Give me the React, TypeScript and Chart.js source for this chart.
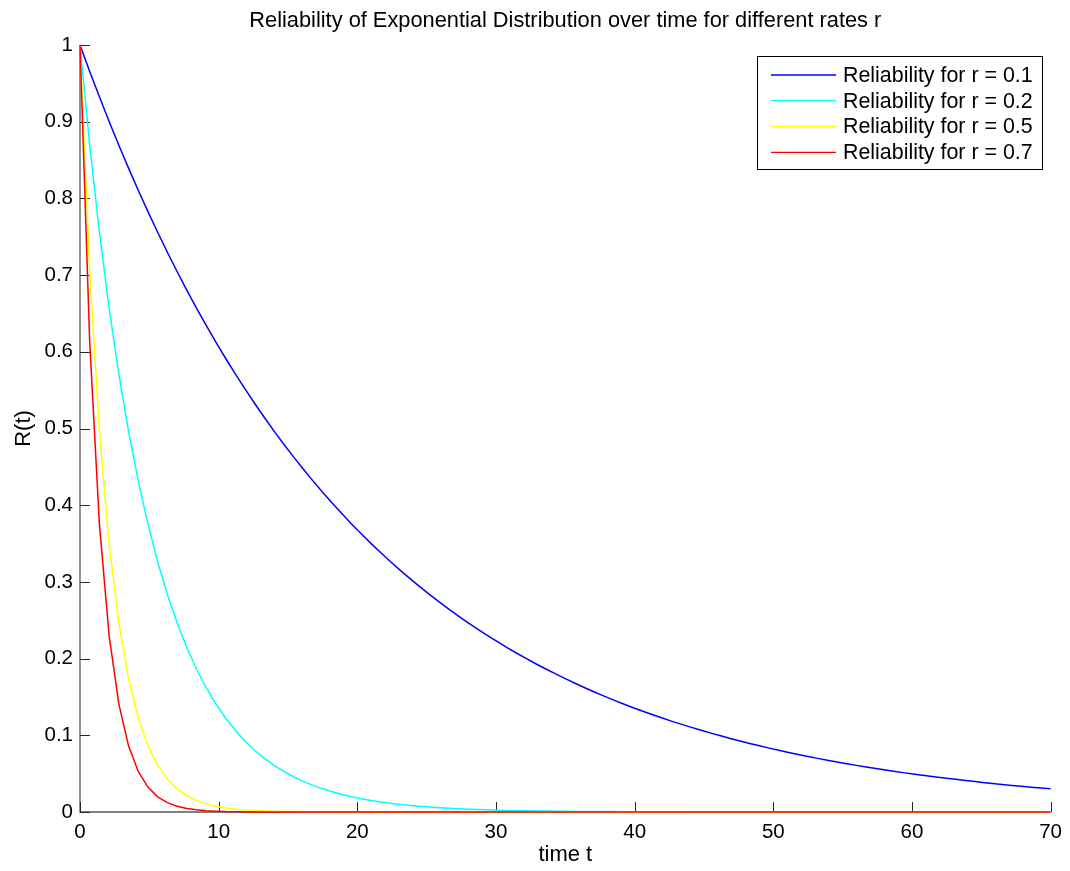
import React, { useEffect, useRef } from "react";
import { Chart, registerables } from "chart.js";

Chart.register(...registerables);

const chartTitle = "Reliability of Exponential Distribution over time for different rates r";
const xAxisTitle = "time t";
const yAxisTitle = "R(t)";

const seriesLabels = [
  "Reliability for r = 0.1",
  "Reliability for r = 0.2",
  "Reliability for r = 0.5",
  "Reliability for r = 0.7",
];
const seriesColors = ["#0000ff", "#00ffff", "#ffff00", "#ff0000"];

const xTicks = [0, 10, 20, 30, 40, 50, 60, 70];
const yTicks = [0, 0.1, 0.2, 0.3, 0.4, 0.5, 0.6, 0.7, 0.8, 0.9, 1];
const yTickLabels = ["0", "0.1", "0.2", "0.3", "0.4", "0.5", "0.6", "0.7", "0.8", "0.9", "1"];

const tValues = [
  0, 0.7, 1.4, 2.1, 2.8, 3.5, 4.2, 4.9, 5.6, 6.3,
  7, 7.7, 8.4, 9.1, 9.8, 10.5, 11.2, 11.9, 12.6, 13.3,
  14, 14.7, 15.4, 16.1, 16.8, 17.5, 18.2, 18.9, 19.6, 20.3,
  21, 21.7, 22.4, 23.1, 23.8, 24.5, 25.2, 25.9, 26.6, 27.3,
  28, 28.7, 29.4, 30.1, 30.8, 31.5, 32.2, 32.9, 33.6, 34.3,
  35, 35.7, 36.4, 37.1, 37.8, 38.5, 39.2, 39.9, 40.6, 41.3,
  42, 42.7, 43.4, 44.1, 44.8, 45.5, 46.2, 46.9, 47.6, 48.3,
  49, 49.7, 50.4, 51.1, 51.8, 52.5, 53.2, 53.9, 54.6, 55.3,
  56, 56.7, 57.4, 58.1, 58.8, 59.5, 60.2, 60.9, 61.6, 62.3,
  63, 63.7, 64.4, 65.1, 65.8, 66.5, 67.2, 67.9, 68.6, 69.3,
  70,
];

const reliabilityR01 = [
  1.0, 0.9656, 0.9324, 0.9003, 0.8694, 0.8395, 0.8106, 0.7827, 0.7558, 0.7298,
  0.7047, 0.6805, 0.657, 0.6344, 0.6126, 0.5916, 0.5712, 0.5516, 0.5326, 0.5143,
  0.4966, 0.4795, 0.463, 0.4471, 0.4317, 0.4169, 0.4025, 0.3887, 0.3753, 0.3624,
  0.3499, 0.3379, 0.3263, 0.3151, 0.3042, 0.2938, 0.2837, 0.2739, 0.2645, 0.2554,
  0.2466, 0.2381, 0.2299, 0.222, 0.2144, 0.207, 0.1999, 0.193, 0.1864, 0.18,
  0.1738, 0.1678, 0.162, 0.1565, 0.1511, 0.1459, 0.1409, 0.136, 0.1313, 0.1268,
  0.1225, 0.1182, 0.1142, 0.1103, 0.1065, 0.1028, 0.0993, 0.0958, 0.0926, 0.0894,
  0.0863, 0.0833, 0.0805, 0.0777, 0.075, 0.0724, 0.0699, 0.0675, 0.0652, 0.063,
  0.0608, 0.0587, 0.0567, 0.0548, 0.0529, 0.051, 0.0493, 0.0476, 0.046, 0.0444,
  0.0429, 0.0414, 0.04, 0.0386, 0.0373, 0.036, 0.0347, 0.0335, 0.0324, 0.0313,
  0.0302,
];

const reliabilityR02 = [
  1.0, 0.8694, 0.7558, 0.657, 0.5712, 0.4966, 0.4317, 0.3753, 0.3263, 0.2837,
  0.2466, 0.2144, 0.1864, 0.162, 0.1409, 0.1225, 0.1065, 0.0926, 0.0805, 0.0699,
  0.0608, 0.0529, 0.046, 0.04, 0.0347, 0.0302, 0.0263, 0.0228, 0.0198, 0.0173,
  0.015, 0.013, 0.0113, 0.0099, 0.0086, 0.0074, 0.0065, 0.0056, 0.0049, 0.0043,
  0.0037, 0.0032, 0.0028, 0.0024, 0.0021, 0.0018, 0.0016, 0.0014, 0.0012, 0.001,
  0.0009, 0.0008, 0.0007, 0.0006, 0.0005, 0.0005, 0.0004, 0.0003, 0.0003, 0.0003,
  0.0002, 0.0002, 0.0002, 0.0001, 0.0001, 0.0001, 0.0001, 0.0001, 0, 0,
  0, 0, 0, 0, 0, 0, 0, 0, 0, 0,
  0, 0, 0, 0, 0, 0, 0, 0, 0, 0,
  0, 0, 0, 0, 0, 0, 0, 0, 0, 0,
  0,
];

const reliabilityR05 = [
  1.0, 0.7047, 0.4966, 0.3499, 0.2466, 0.1738, 0.1225, 0.0863, 0.0608, 0.0429,
  0.0302, 0.0213, 0.015, 0.0106, 0.0074, 0.0052, 0.0037, 0.0026, 0.0018, 0.0013,
  0.0009, 0.0006, 0.0005, 0.0003, 0.0002, 0.0002, 0.0001, 0, 0, 0,
  0, 0, 0, 0, 0, 0, 0, 0, 0, 0,
  0, 0, 0, 0, 0, 0, 0, 0, 0, 0,
  0, 0, 0, 0, 0, 0, 0, 0, 0, 0,
  0, 0, 0, 0, 0, 0, 0, 0, 0, 0,
  0, 0, 0, 0, 0, 0, 0, 0, 0, 0,
  0, 0, 0, 0, 0, 0, 0, 0, 0, 0,
  0, 0, 0, 0, 0, 0, 0, 0, 0, 0,
  0,
];

const reliabilityR07 = [
  1.0, 0.6126, 0.3753, 0.2299, 0.1409, 0.0863, 0.0529, 0.0324, 0.0198, 0.0122,
  0.0074, 0.0046, 0.0028, 0.0017, 0.0011, 0.0006, 0.0004, 0.0002, 0.0001, 0,
  0, 0, 0, 0, 0, 0, 0, 0, 0, 0,
  0, 0, 0, 0, 0, 0, 0, 0, 0, 0,
  0, 0, 0, 0, 0, 0, 0, 0, 0, 0,
  0, 0, 0, 0, 0, 0, 0, 0, 0, 0,
  0, 0, 0, 0, 0, 0, 0, 0, 0, 0,
  0, 0, 0, 0, 0, 0, 0, 0, 0, 0,
  0, 0, 0, 0, 0, 0, 0, 0, 0, 0,
  0, 0, 0, 0, 0, 0, 0, 0, 0, 0,
  0,
];

const seriesValues = [reliabilityR01, reliabilityR02, reliabilityR05, reliabilityR07];

const FONT = "'Liberation Sans', Arial, sans-serif";

const decorPlugin = {
  id: "matlabDecor",
  beforeDatasetsDraw(chart: any) {
    const { ctx, chartArea } = chart;
    const xs = chart.scales.x;
    const ys = chart.scales.y;
    ctx.save();
    ctx.strokeStyle = "#5a5a5a";
    ctx.lineWidth = 1.3;
    ctx.beginPath();
    ctx.moveTo(chartArea.left, chartArea.top);
    ctx.lineTo(chartArea.left, chartArea.bottom);
    ctx.lineTo(chartArea.right, chartArea.bottom);
    ctx.stroke();
    ctx.strokeStyle = "#262626";
    ctx.lineWidth = 1;
    ctx.beginPath();
    xTicks.forEach((v) => {
      const px = Math.round(xs.getPixelForValue(v)) + 0.5;
      ctx.moveTo(px, chartArea.bottom);
      ctx.lineTo(px, chartArea.bottom - 10);
    });
    yTicks.forEach((v) => {
      const py = Math.round(ys.getPixelForValue(v)) + 0.5;
      ctx.moveTo(chartArea.left, py);
      ctx.lineTo(chartArea.left + 10, py);
    });
    ctx.stroke();
    ctx.restore();
  },
  afterDraw(chart: any) {
    const { ctx, chartArea } = chart;
    ctx.save();
    ctx.fillStyle = "#000";
    ctx.font = `21.8px ${FONT}`;
    ctx.textAlign = "center";
    ctx.textBaseline = "alphabetic";
    ctx.fillText(chartTitle, (chartArea.left + chartArea.right) / 2, 27);
    ctx.font = `22px ${FONT}`;
    ctx.fillText(xAxisTitle, (chartArea.left + chartArea.right) / 2, 861);
    ctx.save();
    ctx.translate(30, (chartArea.top + chartArea.bottom) / 2);
    ctx.rotate(-Math.PI / 2);
    ctx.fillText(yAxisTitle, 0, 0);
    ctx.restore();

    const bx = 757.5, by = 56.5, bw = 285, bh = 113;
    ctx.fillStyle = "#fff";
    ctx.fillRect(bx, by, bw, bh);
    ctx.strokeStyle = "#000";
    ctx.lineWidth = 1;
    ctx.strokeRect(bx, by, bw, bh);
    const rowY = [75, 100.7, 126.5, 152.3];
    ctx.font = `21.4px ${FONT}`;
    ctx.textAlign = "left";
    ctx.textBaseline = "middle";
    seriesLabels.forEach((lab, i) => {
      ctx.strokeStyle = seriesColors[i];
      ctx.lineWidth = 1.3;
      ctx.beginPath();
      ctx.moveTo(771, rowY[i]);
      ctx.lineTo(836, rowY[i]);
      ctx.stroke();
      ctx.fillStyle = "#000";
      ctx.fillText(lab, 843, rowY[i] + 1);
    });
    ctx.restore();
  },
};

export default function App() {
  const canvasRef = useRef<HTMLCanvasElement | null>(null);

  useEffect(() => {
    const canvas = canvasRef.current;
    if (!canvas) return;
    const datasets = seriesValues.map((vals, i) => ({
      label: seriesLabels[i],
      data: tValues.map((t, j) => ({ x: t, y: vals[j] })),
      borderColor: seriesColors[i],
      backgroundColor: seriesColors[i],
      borderWidth: 1.5,
      pointRadius: 0,
      tension: 0,
      fill: false,
      clip: false,
      order: seriesValues.length - i,
    }));
    const chart = new Chart(canvas, {
      type: "line",
      data: { datasets },
      plugins: [decorPlugin],
      options: {
        animation: false,
        responsive: false,
        maintainAspectRatio: false,
        events: [],
        layout: { padding: { left: 0, right: 17, top: 45, bottom: 0 } },
        plugins: {
          legend: { display: false },
          title: { display: false },
          tooltip: { enabled: false },
        },
        scales: {
          x: {
            type: "linear",
            min: 0,
            max: 70,
            grid: { display: false, drawTicks: false },
            border: { display: false },
            afterBuildTicks: (scale: any) => {
              scale.ticks = xTicks.map((v) => ({ value: v }));
            },
            afterFit: (scale: any) => {
              scale.height = 59;
            },
            ticks: {
              autoSkip: false,
              maxRotation: 0,
              padding: 8,
              color: "#000",
              font: { family: FONT, size: 20.5 },
              callback: (v: any) => String(v),
            },
          },
          y: {
            type: "linear",
            min: 0,
            max: 1,
            grid: { display: false, drawTicks: false },
            border: { display: false },
            afterBuildTicks: (scale: any) => {
              scale.ticks = yTicks.map((v) => ({ value: v }));
            },
            afterFit: (scale: any) => {
              scale.width = 80;
            },
            ticks: {
              autoSkip: false,
              padding: 7,
              color: "#000",
              font: { family: FONT, size: 20.5 },
              callback: (_v: any, idx: number) => yTickLabels[idx],
            },
          },
        },
      },
    });
    return () => chart.destroy();
  }, []);

  return (
    <div style={{ position: "absolute", left: 0, top: 0, width: 1070, height: 871, background: "#fff" }}>
      <canvas ref={canvasRef} width={1070} height={871} style={{ display: "block", width: 1070, height: 871 }} />
    </div>
  );
}
